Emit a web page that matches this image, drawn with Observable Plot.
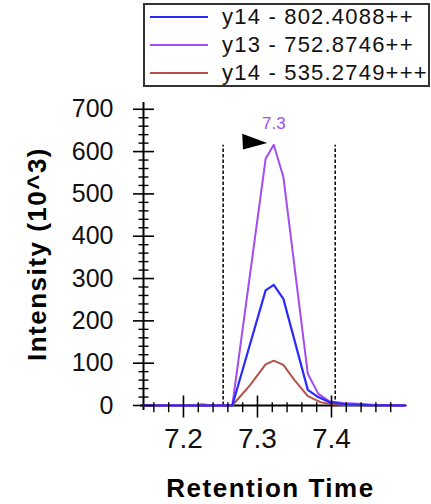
<!DOCTYPE html>
<html><head><meta charset="utf-8">
<script src="https://cdn.jsdelivr.net/npm/d3@7"></script>
<script src="https://cdn.jsdelivr.net/npm/@observablehq/plot@0.6"></script>
<style>
body{margin:0;background:#fff;width:431px;height:504px;overflow:hidden;font-family:Arial,"Liberation Sans",sans-serif}
#legend{position:relative;height:90px;width:431px}
.box{position:absolute;left:143px;top:3px;width:287px;height:84px;border:2px solid #333;box-sizing:border-box}
.sw{position:absolute;left:150px;width:58px;height:2px}
.lab{position:absolute;left:222px;font-size:22px;line-height:28px;height:28px;letter-spacing:1.2px;color:#111;white-space:nowrap}
</style></head><body>
<div id="legend"></div>
<div id="chart"></div>
<script>
// ---- data ----
const seriesNames  = ["y14 - 802.4088++", "y13 - 752.8746++", "y14 - 535.2749+++"];
const seriesColors = ["#2a2aff", "#a24cf2", "#b4504a"];

const blueTime = [7.146, 7.266, 7.311, 7.322, 7.335, 7.368, 7.382, 7.397, 7.42, 7.45, 7.5];
const blueInt  = [0,     0,     272,   285,   252,   37,    20,    8,     3,    1,    0];

const purpleTime = [7.146, 7.266, 7.311, 7.322, 7.335, 7.368, 7.382, 7.397, 7.415, 7.435, 7.455, 7.47, 7.5];
const purpleInt  = [0,     0,     583,   616,   540,   75,    28,    10,    6,     4,     2,     0,    0];

const redTime = [7.146, 7.215, 7.225, 7.24, 7.266, 7.29, 7.311, 7.322, 7.335, 7.35, 7.368, 7.385, 7.40, 7.42, 7.5];
const redInt  = [0,     0,     3,     0,    0,     48,   97,    106,   96,    60,   22,    8,     3,    1,    0];

const xDomain = [7.146, 7.5];
const yDomain = [0, 716];
const xTicks = [7.2, 7.3, 7.4];
const xTickLabels = ["7.2", "7.3", "7.4"];
const yTicks = [0, 100, 200, 300, 400, 500, 600, 700];
const yTickLabels = ["0", "100", "200", "300", "400", "500", "600", "700"];
const boundaries = [7.2536, 7.405];
const boundaryTop = 615;
const peakTime = 7.322, peakInt = 616, peakLabel = "7.3";
const xTitle = "Retention Time";
const yTitle = "Intensity (10^3)";

// ---- legend ----
const leg = document.getElementById("legend");
leg.innerHTML = '<div class="box"></div>';
const rowY = [17, 45, 73];
seriesNames.forEach((n, i) => {
  const sw = document.createElement("div");
  sw.className = "sw"; sw.style.top = (rowY[i] - 1) + "px"; sw.style.background = seriesColors[i];
  leg.appendChild(sw);
  const lb = document.createElement("div");
  lb.className = "lab"; lb.style.top = (rowY[i] - 14) + "px"; lb.textContent = n;
  leg.appendChild(lb);
});

// ---- chart ----
const mk = (T, V) => T.map((t, i) => ({t, v: V[i]}));
const blue = mk(blueTime, blueInt), purple = mk(purpleTime, purpleInt), red = mk(redTime, redInt);

const xMinor = d3.range(358, 375).filter(i => i % 5 !== 0).map(i => i / 50);
const yMinor = d3.range(20, 700, 20).filter(v => v % 100 !== 0);

const vTick = (a, b) => ({draw(c) { c.moveTo(0, -a); c.lineTo(0, b); }});
const hTick = (a) => ({draw(c) { c.moveTo(-a, 0); c.lineTo(a, 0); }});
const flag = {draw(c) { c.moveTo(-31.5, -11); c.lineTo(-6.6, -1.8); c.lineTo(-30.8, 4.7); c.closePath(); }};

const chart = Plot.plot({
  width: 431, height: 414,
  marginLeft: 143, marginRight: 26, marginTop: 12, marginBottom: 99,
  style: {fontFamily: 'Arial, "Liberation Sans", sans-serif', color: "#111", background: "#fff", overflow: "visible"},
  x: {domain: xDomain},
  y: {domain: yDomain},
  marks: [
    Plot.ruleY([0], {stroke: "#000", strokeWidth: 2, insetLeft: -3}),
    Plot.ruleX([xDomain[0]], {stroke: "#000", strokeWidth: 2, insetBottom: -5}),
    Plot.ruleX(boundaries, {x: d => d, y1: 0, y2: boundaryTop, stroke: "#000", strokeWidth: 1.5, strokeDasharray: "3.5,2"}),
    Plot.line(red, {x: "t", y: "v", stroke: seriesColors[2], strokeWidth: 2}),
    Plot.line(purple, {x: "t", y: "v", stroke: seriesColors[1], strokeWidth: 2}),
    Plot.line(blue, {x: "t", y: "v", stroke: seriesColors[0], strokeWidth: 2.2}),
    Plot.dot(xTicks, {x: d => d, y: 0, symbol: vTick(10, 12), stroke: "#000", fill: "none", strokeWidth: 1.6}),
    Plot.dot(xMinor, {x: d => d, y: 0, symbol: vTick(3.3, 6.7), stroke: "#000", fill: "none", strokeWidth: 1.4}),
    Plot.dot(yTicks, {x: xDomain[0], y: d => d, symbol: hTick(10.5), stroke: "#000", fill: "none", strokeWidth: 1.6}),
    Plot.dot(yMinor, {x: xDomain[0], y: d => d, symbol: hTick(5), stroke: "#000", fill: "none", strokeWidth: 1.4}),
    Plot.dot([peakTime], {x: d => d, y: peakInt, symbol: flag, fill: "#000", stroke: "none"}),
    Plot.text([peakLabel], {x: peakTime, y: peakInt, text: d => d, dy: -21, fontSize: 17, fill: seriesColors[1]}),
    Plot.axisX(xTicks, {tickSize: 0, tickPadding: 23, fontSize: 28, label: null, tickFormat: (d, i) => xTickLabels[i]}),
    Plot.axisY(yTicks, {tickSize: 0, tickPadding: 30, fontSize: 25, label: null, tickFormat: (d, i) => yTickLabels[i]}),
    Plot.text([xTitle], {text: d => d, frameAnchor: "bottom", textAnchor: "middle", lineAnchor: "middle", dy: 83, dx: -4, fontSize: 26, fontWeight: "bold", fill: "#000"}),
    Plot.text([yTitle], {text: d => d, frameAnchor: "left", textAnchor: "middle", lineAnchor: "middle", rotate: -90, dx: -105.5, fontSize: 26, fontWeight: "bold", fill: "#000"})
  ]
});
document.getElementById("chart").appendChild(chart);
d3.select(chart).selectAll("text").filter(function() { return this.textContent === xTitle || this.textContent === yTitle; })
  .attr("letter-spacing", "1.5px");
</script>
</body></html>
